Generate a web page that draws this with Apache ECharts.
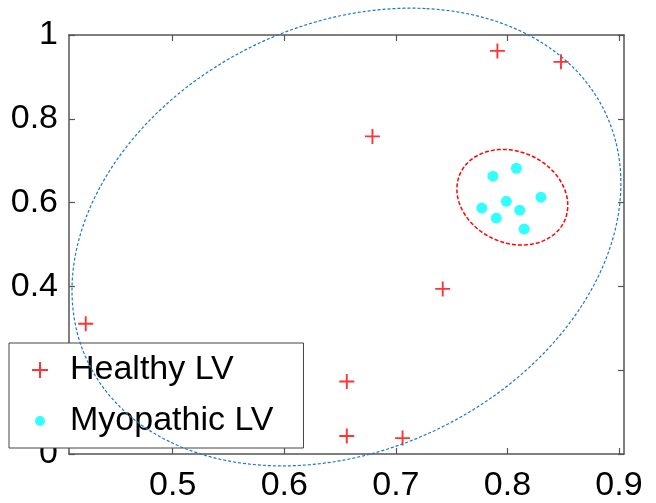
<!DOCTYPE html>
<html>
<head>
<meta charset="utf-8">
<script src="https://cdn.jsdelivr.net/npm/echarts@6/dist/echarts.min.js"></script>
<style>
  html, body { margin: 0; padding: 0; background: #fff; }
  #main { width: 656px; height: 503px; }
</style>
</head>
<body>
<div id="main"></div>
<script>
// values
var healthyPoints = [
  [0.422, 0.311], [0.656, 0.173], [0.656, 0.043], [0.706, 0.038],
  [0.742, 0.394], [0.679, 0.758], [0.791, 0.962], [0.848, 0.936]
];
var myopathicPoints = [
  [0.787, 0.663], [0.808, 0.682], [0.830, 0.613], [0.799, 0.603],
  [0.777, 0.587], [0.811, 0.582], [0.790, 0.563], [0.815, 0.537]
];
// fitted ellipses: centre, semi axes (data units), tilt of the first axis in degrees
var ellipseCenters = [[0.6557, 0.5178], [0.8044, 0.6128]];
var ellipseAxes = [[0.550, 0.2376], [0.1144, 0.0488]];
var ellipseAngles = [82.6, 95.2];
var xTicks = [0.5, 0.6, 0.7, 0.8, 0.9];
var xRange = [0.407, 0.9045];
var yRange = [0, 1];

var font = '"Liberation Sans", Arial, Helvetica, sans-serif';
var frameColor = '#555';
var plusPath = 'path://M-1,-8H1V-1H8V1H1V8H-1V1H-8V-1H-1Z';
var dotPath = 'path://M-8,-8M8,8M5,0A5,5,0,1,1,-5,0A5,5,0,1,1,5,0Z';
var ellipseStyles = [
  { stroke: '#1a78cc', lineWidth: 1.2, lineDash: [3, 2] },
  { stroke: '#ff0000', lineWidth: 1.5, lineDash: [4, 2] }
];

var chart = echarts.init(document.getElementById('main'), null, { renderer: 'canvas' });

function renderEllipse(params, api) {
  var i = params.dataIndex;
  var c = ellipseCenters[i], ax = ellipseAxes[i];
  var phi = ellipseAngles[i] * Math.PI / 180;
  var pts = [];
  for (var k = 0; k <= 160; k++) {
    var t = k / 160 * Math.PI * 2;
    var dx = ax[0] * Math.cos(t) * Math.cos(phi) - ax[1] * Math.sin(t) * Math.sin(phi);
    var dy = ax[0] * Math.cos(t) * Math.sin(phi) + ax[1] * Math.sin(t) * Math.cos(phi);
    pts.push(api.coord([c[0] + dx, c[1] + dy]));
  }
  return {
    type: 'polyline',
    shape: { points: pts },
    style: Object.assign({ fill: null }, ellipseStyles[i])
  };
}

function boxAxis(extra) {
  return Object.assign({
    type: 'value',
    axisLine: { show: true, onZero: false, lineStyle: { color: frameColor, width: 1.5 } },
    axisTick: { show: true, inside: true, length: 6, lineStyle: { color: frameColor, width: 1.2 } },
    splitLine: { show: false },
    axisLabel: { show: false }
  }, extra);
}

var option = {
  animation: false,
  backgroundColor: '#fff',
  grid: { left: 69, right: 32, top: 35, bottom: 47 },
  xAxis: [
    boxAxis({
      position: 'bottom', min: xRange[0], max: xRange[1],
      axisTick: { show: true, inside: true, length: 6, customValues: xTicks, lineStyle: { color: frameColor, width: 1.2 } },
      axisLabel: { show: true, customValues: xTicks, margin: 15, color: '#000', fontSize: 34, fontFamily: font }
    }),
    boxAxis({
      position: 'top', min: xRange[0], max: xRange[1],
      axisTick: { show: true, inside: true, length: 6, customValues: xTicks, lineStyle: { color: frameColor, width: 1.2 } }
    })
  ],
  yAxis: [
    boxAxis({
      position: 'left', min: yRange[0], max: yRange[1], interval: 0.2,
      axisLabel: { show: true, margin: 11, color: '#000', fontSize: 34, fontFamily: font }
    }),
    boxAxis({ position: 'right', min: yRange[0], max: yRange[1], interval: 0.2 })
  ],
  legend: {
    orient: 'vertical',
    left: 9,
    top: 343,
    selectedMode: false,
    data: [
      { name: 'Healthy LV', icon: plusPath },
      { name: 'Myopathic LV', icon: dotPath }
    ],
    itemWidth: 16,
    itemHeight: 16,
    itemGap: 15,
    padding: [9, 30, 9, 23],
    backgroundColor: '#fff',
    borderColor: '#444',
    borderWidth: 1,
    borderRadius: 0,
    textStyle: { fontSize: 34, color: '#000', fontFamily: font, lineHeight: 36, padding: [0, 0, 0, 17] }
  },
  series: [
    {
      name: 'Healthy LV',
      type: 'scatter',
      data: healthyPoints,
      symbol: plusPath,
      symbolSize: 15,
      itemStyle: { color: '#ff0000' },
      z: 5
    },
    {
      name: 'Myopathic LV',
      type: 'scatter',
      data: myopathicPoints,
      symbol: 'circle',
      symbolSize: 11,
      itemStyle: { color: '#00ffff' },
      z: 5
    },
    {
      name: 'ellipses',
      type: 'custom',
      data: ellipseCenters,
      renderItem: renderEllipse,
      clip: false,
      silent: true,
      z: 10
    }
  ]
};
chart.setOption(option);
</script>
</body>
</html>
